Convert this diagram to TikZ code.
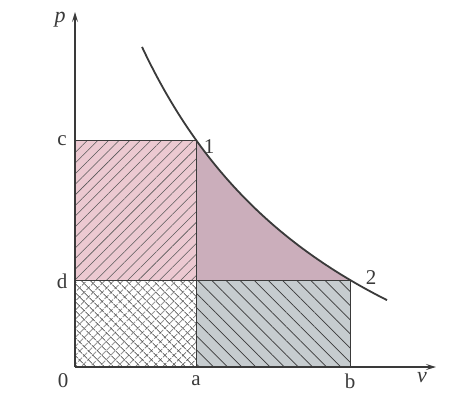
\documentclass[tikz,border=0pt]{standalone}
\usepackage{fontspec}
\setmainfont{Liberation Serif}
\usetikzlibrary{patterns.meta,arrows.meta}
\definecolor{pinkfill}{HTML}{ECC9D1}
\definecolor{purplefill}{HTML}{CBAEBB}
\definecolor{greyfill}{HTML}{C6CCCF}
\definecolor{inkc}{HTML}{3A3A3A}
\tikzset{
  axis/.style={line width=1.3pt, draw=inkc, -{Stealth[length=10pt,width=6pt,inset=4pt]}},
  edge/.style={line width=0.7pt, draw=inkc},
  curve/.style={line width=1.8pt, draw=inkc},
  lab/.style={font=\fontsize{21}{21}\selectfont, text=inkc, inner sep=0pt},
  ilab/.style={font=\fontsize{22}{22}\selectfont\itshape, text=inkc, inner sep=0pt}
}
\begin{document}
\begin{tikzpicture}[x=1pt,y=-1pt]
\useasboundingbox (0,0) rectangle (465,408);
\fill[white] (0,0) rectangle (465,408);
% named points
\coordinate (O) at (75,367);
\coordinate (c) at (75,140);
\coordinate (d) at (75,280);
\coordinate (a) at (196,367);
\coordinate (b) at (350,367);
\coordinate (p1) at (196,140);
\coordinate (p2) at (350,280);
\coordinate (ad) at (196,280);
\coordinate (ytop) at (75,12);
\coordinate (xend) at (436,367);
% pink region
\fill[pinkfill] (d) rectangle (p1);
\fill[pattern={Lines[angle=45,distance=7.5pt,line width=0.55pt]},pattern color=inkc!85] (d) rectangle (p1);
% purple region
\fill[purplefill] (ad) -- (p2) -- plot[domain=275:121,samples=60] ({75+\x},{367-1147.39/(0.01*\x+1.655)+173.5}) -- cycle;
% crosshatch region
\fill[white] (O) rectangle (ad);
\fill[pattern={Lines[angle=45,distance=6.5pt,line width=0.75pt]},pattern color=inkc] (O) rectangle (ad);
\fill[pattern={Lines[angle=-45,distance=6.5pt,line width=0.75pt]},pattern color=inkc] (O) rectangle (ad);
% grey region
\fill[greyfill] (a) rectangle (p2);
\fill[pattern={Lines[angle=-45,distance=10pt,line width=0.7pt]},pattern color=inkc] (a) rectangle (p2);
% edges
\draw[edge] (c) -- (p1) -- (a);
\draw[edge] (d) -- (p2) -- (b);
% curve
\draw[curve] plot[domain=67:312,samples=80] ({75+\x},{367-1147.39/(0.01*\x+1.655)+173.5});
% axes
\draw[axis] (O) -- (ytop);
\draw[axis] (O) -- (xend);
% labels
\node[ilab] (lp) at (60,20) {p};
\node[ilab] (lv) at (422,378) {v};
\node[lab] (l0) at (63,381) {0};
\node[lab] (la) at (196,381) {a};
\node[lab] (lb) at (350,381) {b};
\node[lab] (lc) at (62,141) {c};
\node[lab] (ld) at (62,281) {d};
\node[lab] (l1) at (209,147) {1};
\node[lab] (l2) at (371,278) {2};
\end{tikzpicture}
\end{document}
